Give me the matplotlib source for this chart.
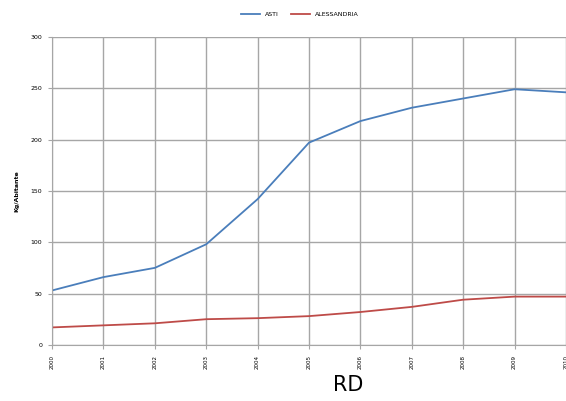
import matplotlib.pyplot as plt

anni = list(range(2000, 2011))
asti = [53, 66, 75, 98, 142, 197, 218, 231, 240, 249, 246]
alessandria = [17, 19, 21, 25, 26, 28, 32, 37, 44, 47, 47]
yticks = [0, 50, 100, 150, 200, 250, 300]

fig = plt.figure(figsize=(5.66, 4.01), dpi=100)
ax = fig.add_axes([0.092, 0.140, 0.908, 0.768])

ax.plot(anni, asti, color='#4a7ebb', lw=1.3, label='ASTI')
ax.plot(anni, alessandria, color='#be4b48', lw=1.3, label='ALESSANDRIA')

ax.set_xlim(2000, 2010)
ax.set_ylim(0, 300)
ax.set_xticks(anni)
ax.set_xticklabels([str(a) for a in anni], rotation=90, fontsize=4)
ax.set_yticks(yticks)
ax.set_yticklabels([str(v) for v in yticks], fontsize=4.5)
ax.tick_params(length=3, color='#a6a6a6', pad=4)
ax.grid(True, color='#a6a6a6', lw=1.0)
for s in ['top', 'right']:
    ax.spines[s].set_visible(False)
for s in ['left', 'bottom']:
    ax.spines[s].set_color('#a6a6a6')
ax.set_ylabel('Kg/Abitante', fontsize=4.5, fontweight='bold', labelpad=8)

fig.legend(loc='upper center', bbox_to_anchor=(0.53, 0.985), ncol=2, fontsize=4.5,
           frameon=False, handlelength=3, columnspacing=2)
fig.text(0.615, 0.025, 'RD', fontsize=15, ha='center')

fig.savefig('out.png', dpi=100)
